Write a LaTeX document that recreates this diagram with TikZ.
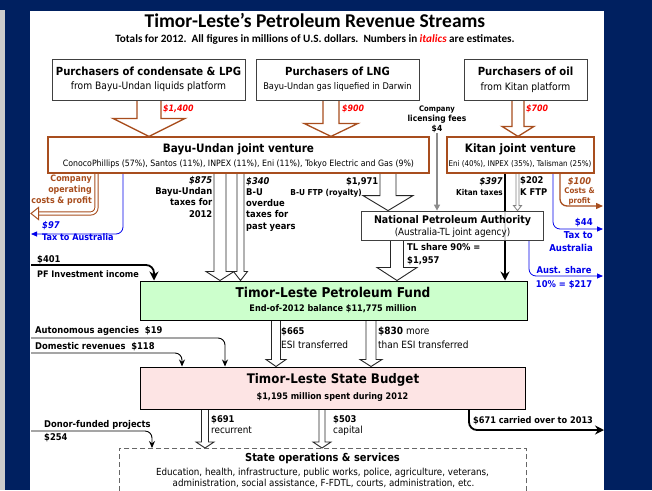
\documentclass[tikz,border=0pt]{standalone}
\usepackage{fontspec}
\setmainfont{DejaVu Sans Condensed}
\newfontfamily\titlefont{Carlito}
\usetikzlibrary{arrows.meta,calc}
\definecolor{navy}{RGB}{0,32,96}
\definecolor{brn}{RGB}{168,78,30}
\definecolor{fundgreen}{RGB}{204,255,204}
\definecolor{budpink}{RGB}{253,228,228}
\definecolor{tblue}{RGB}{0,0,235}
\definecolor{tred}{RGB}{255,0,0}
\newcommand{\fsz}[1]{\fontsize{#1}{#1}\selectfont}
% hollow block arrow: #1 x (px), #2 start anchor, #3 end anchor, #4 half shaft, #5 half head, #6 head length, #7 style
\newcommand{\harrow}[7]{%
  \draw[#7] let \p1=(#2), \p2=(#3) in
    (#1pt-#4pt,\y1) -- (#1pt-#4pt,\y2+#6pt) -- (#1pt-#5pt,\y2+#6pt) -- (#1pt,\y2)
    -- (#1pt+#5pt,\y2+#6pt) -- (#1pt+#4pt,\y2+#6pt) -- (#1pt+#4pt,\y1);}
\pgfdeclarelayer{bg}
\pgfdeclarelayer{arr}
\pgfsetlayers{bg,arr,main}
\begin{document}
\begin{tikzpicture}[x=1pt,y=-1pt,
  box/.style={draw=black!75, line width=0.8pt, fill=white, inner sep=0pt},
  jvbox/.style={draw=brn, line width=1.2pt, fill=white, inner sep=0pt},
  txt/.style={inner sep=0pt, anchor=base},
  ttl/.style={txt, font=\fsz{11.2}\bfseries},
  sbt/.style={txt, font=\fsz{10.2}},
  lbl/.style={inner sep=0pt, font=\fontsize{9.3}{11.2}\selectfont\bfseries},
  amt/.style={inner sep=0pt, font=\fsz{8.8}\bfseries\itshape, text=tred},
  blk/.style={draw=black!85, line width=0.9pt, fill=white},
  brnarr/.style={draw=brn, line width=1.3pt, fill=white},
  blarr/.style={draw=tblue, line width=0.8pt, rounded corners=7pt, -{Triangle[length=6pt,width=5pt]}},
  thinarr/.style={draw=black, line width=0.9pt, rounded corners=7pt, -{Stealth[length=7pt,width=6pt]}},
  thickarr/.style={draw=black, line width=1.8pt, rounded corners=8pt, -{Stealth[length=9pt,width=9pt]}},
]
\useasboundingbox (0,0) rectangle (652,490);
\clip (0,0) rectangle (652,490);
\begin{pgfonlayer}{bg}
\fill[navy] (0,0) rectangle (652,490);
\fill[black!20] (0,10) rectangle (5,490);
\fill[white] (30,11) rectangle (604,490);
\end{pgfonlayer}

% title
\node[font=\titlefont\bfseries\fsz{19.5}, inner sep=0pt, anchor=base] (title) at (315,27) {Timor-Leste’s Petroleum Revenue Streams};
\node[font=\titlefont\bfseries\fsz{11.2}, inner sep=0pt, anchor=base] (subtitle) at (315,42) {Totals for 2012.\ \ All figures in millions of U.S. dollars.\ \ Numbers in {\color{tred}\itshape italics} are estimates.};

% purchaser boxes
\node[box, minimum width=193, minimum height=41] (cond) at (148.5,79.5) {};
\node[ttl] (condT) at (148.5,75.5) {Purchasers of condensate \& LPG};
\node[sbt] (condS) at (148.5,89.5) {from Bayu-Undan liquids platform};
\node[box, minimum width=163, minimum height=41] (lng) at (337.5,79.5) {};
\node[ttl] (lngT) at (337.5,75.5) {Purchasers of LNG};
\node[sbt, font=\fsz{9.2}] (lngS) at (337.5,89) {Bayu-Undan gas liquefied in Darwin};
\node[box, minimum width=123, minimum height=41] (oil) at (525.5,80) {};
\node[ttl] (oilT) at (525.5,75.5) {Purchasers of oil};
\node[sbt] (oilS) at (525.5,90) {from Kitan platform};

% joint ventures
\node[jvbox, minimum width=381, minimum height=36] (bu) at (238.5,155) {};
\node[txt, font=\fsz{11.6}\bfseries] (buT) at (238.5,152) {Bayu-Undan joint venture};
\node[txt, font=\fsz{8.7}] (buS) at (238.5,166) {ConocoPhillips (57\%), Santos (11\%), INPEX (11\%), Eni (11\%), Tokyo Electric and Gas (9\%)};
\node[jvbox, minimum width=147, minimum height=36] (kit) at (520.5,155) {};
\node[txt, font=\fsz{11.6}\bfseries] (kitT) at (520.5,152) {Kitan joint venture};
\node[txt, font=\fsz{7.9}] (kitS) at (520,166) {Eni (40\%), INPEX (35\%), Talisman (25\%)};

% NPA
\node[box, minimum width=182, minimum height=29, fill opacity=0.85] (npa) at (452,225.5) {};
\node[txt, font=\fsz{10.5}\bfseries] (npaT) at (452.5,223) {National Petroleum Authority};
\node[txt, font=\fsz{9.8}] (npaS) at (452.5,235) {(Australia-TL joint agency)};

% Petroleum Fund
\node[draw=black, line width=1pt, fill=fundgreen, minimum width=387, minimum height=39, inner sep=0pt] (fund) at (333.5,300.5) {};
\node[txt, font=\fsz{13.5}\bfseries] (fundT) at (333,297) {Timor-Leste Petroleum Fund};
\node[txt, font=\fsz{9}\bfseries] (fundS) at (333,311.5) {End-of-2012 balance \$11,775 million};

% State Budget
\node[draw=black, line width=1pt, fill=budpink, minimum width=385, minimum height=42, inner sep=0pt] (bud) at (332.5,388) {};
\node[txt, font=\fsz{13.2}\bfseries] (budT) at (333,383) {Timor-Leste State Budget};
\node[txt, font=\fsz{9}\bfseries] (budS) at (332.5,399.5) {\$1,195 million spent during 2012};

% State operations
\node[draw=black!60, dash pattern=on 5pt off 3pt, line width=0.8pt, minimum width=407, minimum height=60, inner sep=0pt, anchor=north west] (ops) at (119,448) {};
\node[txt, font=\fsz{11}\bfseries] (opsT) at (322.5,461.5) {State operations \& services};
\node[txt, font=\fsz{9.7}] (opsA) at (322.5,475.5) {Education, health, infrastructure, public works, police, agriculture, veterans,};
\node[txt, font=\fsz{9.7}] (opsB) at (323.5,486) {administration, social assistance, F-FDTL, courts, administration, etc.};

% ---------- connectors ----------
\begin{pgfonlayer}{arr}
\harrow{149}{cond.south}{bu.north}{12}{36}{18}{brnarr}
\harrow{331}{lng.south}{bu.north}{8}{27}{13}{brnarr}
\harrow{518}{oil.south}{kit.north}{6}{16}{10}{brnarr}
\harrow{220}{bu.south}{fund.north}{6}{14}{9}{blk}
\harrow{240.5}{bu.south}{fund.north}{3.5}{7}{9}{blk}
\harrow{388}{bu.south}{npa.north}{8}{25}{15}{blk}
\harrow{397}{npa.south}{fund.north}{6.5}{20}{13}{blk}
\harrow{276}{fund.south}{bud.north}{4.5}{10}{7}{blk}
\harrow{371}{fund.south}{bud.north}{5}{11}{7}{blk}
\harrow{205}{bud.south}{ops.north}{3.5}{9}{6}{blk}
\harrow{322}{bud.south}{ops.north}{3}{9}{6}{blk}
\harrow{517.5}{kit.south}{npa.north}{1.5}{4}{5}{draw=black!50, line width=0.8pt, fill=white}

\coordinate (lic) at (437,133);
\draw[black!45, line width=1.4pt, -{Triangle[length=6pt,width=6pt]}] (lic) -- (lic |- npa.north);

\coordinate (kt) at (505,0);
\draw[black, line width=1.8pt, -{Stealth[length=9pt,width=9pt]}] (kt |- kit.south) -- (kt |- fund.north);

% Bayu-Undan outflows left
\coordinate (cop) at (96.5,0);
\coordinate (cope) at (38,213.5);
\draw[brn, double=white, double distance=2.2pt, line width=1pt, rounded corners=6pt] (cop |- bu.south) |- (cope);
\draw[brn, line width=1pt, fill=white] (38.5,207.5) -- (31,213.5) -- (38.5,219.5) -- cycle;
\coordinate (t97) at (123,0);
\coordinate (t97e) at (31,234);
\draw[blarr] (t97 |- bu.south) |- (t97e);

% Kitan outflows right
\coordinate (k100) at (560,0);
\coordinate (k100e) at (603,206);
\draw[brn, line width=1.3pt, rounded corners=7pt, -{Triangle[length=7pt,width=6pt]}] (k100 |- kit.south) |- (k100e);
\coordinate (k44) at (553,0);
\coordinate (k44e) at (603,229);
\draw[blarr] (k44 |- kit.south) |- (k44e);
\coordinate (a217) at (529,0);
\coordinate (a217e) at (603,276);
\draw[blarr] (a217 |- npa.south) |- (a217e);

% inputs to fund / budget / ops
\coordinate (pfs) at (31,265);
\coordinate (pfx) at (154,0);
\draw[thickarr] (pfs) -| (pfx |- fund.north);
\coordinate (aus) at (31,338);
\coordinate (aux) at (225,0);
\draw[thinarr] (aus) -| (aux |- bud.north);
\coordinate (drs) at (31,353);
\coordinate (drx) at (182,0);
\draw[thinarr] (drs) -| (drx |- bud.north);
\coordinate (dfs) at (31,431);
\coordinate (dfx) at (152,0);
\draw[thinarr] (dfs) -| (dfx |- ops.north);
\coordinate (c671) at (469,0);
\coordinate (c671e) at (604,430);
\draw[thickarr] (c671 |- bud.south) |- (c671e);
\end{pgfonlayer}

% ---------- labels (multi-line nodes are placed by the baseline of their last line) ----------
\node[amt, anchor=base west] (l1400) at (163,111) {\$1,400};
\node[amt, anchor=base west] (l900) at (342,111) {\$900};
\node[amt, anchor=base west] (l700) at (526,111) {\$700};
\node[lbl, font=\fontsize{8.4}{10}\selectfont\bfseries, align=center, anchor=base] (licT) at (437,131) {{\fontsize{7.6}{10}\selectfont Company}\\licensing fees\\\$4};

\node[lbl, align=right, anchor=base east] (l875) at (212.5,217) {\textit{\$875}\\Bayu-Undan\\taxes for\\2012};
\node[lbl, font=\fontsize{9.3}{11.25}\selectfont\bfseries, align=left, anchor=base west] (l340) at (246,229) {\textit{\$340}\\B-U\\overdue\\taxes for\\past years};
\node[lbl, anchor=base east] (l1971) at (378.5,184) {\$1,971};
\node[lbl, font=\fsz{8.2}\bfseries, anchor=base east] (l1971b) at (362,195) {B-U FTP (royalty)};
\node[lbl, anchor=base east] (l397) at (503,184) {\textit{\$397}};
\node[lbl, font=\fsz{8.1}\bfseries, anchor=base east] (l397b) at (503,195) {Kitan taxes};
\node[lbl, align=left, anchor=base west] (l202) at (520,195) {\$202\\K FTP};

\node[lbl, text=brn, font=\fontsize{8.8}{10.6}\selectfont\bfseries, align=right, anchor=base east] (lcop) at (92,203) {Company\\operating\\costs \& profit};
\node[lbl, text=tblue, font=\fsz{9.3}\bfseries\itshape, anchor=base west] (l97) at (42,228) {\$97};
\node[lbl, text=tblue, font=\fsz{9}\bfseries, anchor=base west] (l97b) at (42,240.5) {Tax to Australia};

\node[amt, text=brn, font=\fsz{9.3}\bfseries\itshape, anchor=base] (l100) at (579.5,184) {\$100};
\node[lbl, text=brn, font=\fontsize{7.8}{10}\selectfont\bfseries, align=center, anchor=base] (l100b) at (579.5,203) {Costs \&\\profit};
\node[lbl, text=tblue, font=\fontsize{9.5}{13}\selectfont\bfseries, align=right, anchor=base east] (l44) at (593,251) {\$44\\Tax to\\Australia};
\node[lbl, text=tblue, font=\fontsize{9.3}{14}\selectfont\bfseries, align=center, anchor=base] (l217) at (564,287) {Aust. share\\10\% = \$217};
\node[lbl, font=\fontsize{9.3}{13}\selectfont\bfseries, align=left, anchor=base west] (ltl) at (407,263) {TL share 90\% =\\\$1,957};

\node[lbl, anchor=base west] (l401) at (37,262) {\$401};
\node[lbl, font=\fsz{9}\bfseries, anchor=base west] (l401b) at (37,277) {PF Investment income};
\node[lbl, anchor=base west] (lauto) at (35,333) {Autonomous agencies\ \ \$19};
\node[lbl, anchor=base west] (ldom) at (35,349) {Domestic revenues\ \ \$118};
\node[lbl, anchor=base west] (l665) at (281,334) {\$665};
\node[inner sep=0pt, font=\fsz{10}, anchor=base west] (l665b) at (281,348) {ESI transferred};
\node[inner sep=0pt, font=\fsz{10}, anchor=base west] (l830) at (378,334) {\textbf{\$830} more};
\node[inner sep=0pt, font=\fsz{10}, anchor=base west] (l830b) at (378,348) {than ESI transferred};

\node[lbl, anchor=base west] (l691) at (211,422) {\$691};
\node[inner sep=0pt, font=\fsz{9.8}, anchor=base west] (l691b) at (211,433.5) {recurrent};
\node[lbl, anchor=base west] (l503) at (333,422) {\$503};
\node[inner sep=0pt, font=\fsz{9.8}, anchor=base west] (l503b) at (333,433.5) {capital};
\node[lbl, font=\fsz{9.1}\bfseries, anchor=base west] (l671) at (473,423) {\$671 carried over to 2013};
\node[lbl, anchor=base west] (ldon) at (44,427) {Donor-funded projects};
\node[lbl, anchor=base west] (ldonb) at (44,440) {\$254};
\end{tikzpicture}
\end{document}
